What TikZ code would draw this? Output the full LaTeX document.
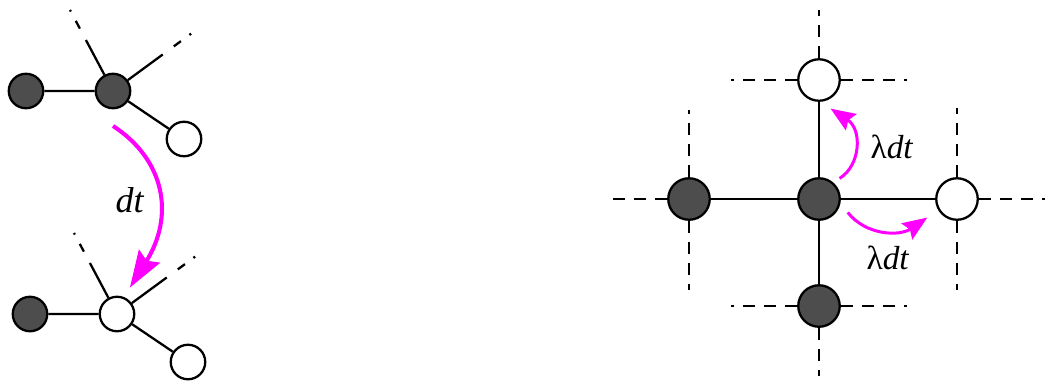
\documentclass[tikz,border=0pt]{standalone}
\usepackage{fontspec}
\setmainfont{Liberation Serif}
\usetikzlibrary{calc,arrows.meta}
\definecolor{occ}{HTML}{4D4D4D}
\definecolor{hopcol}{HTML}{FF00FF}
\tikzset{
  site/.style={circle, draw, line width=1.3pt, inner sep=0pt},
  occupied/.style={site, fill=occ},
  vacant/.style={site, fill=white},
  smallsite/.style={minimum size=0.69cm},
  bigsite/.style={minimum size=0.83cm},
  bond/.style={line width=1.3pt},
  stub/.style={bond, dash pattern=on 7pt off 5pt},
  tail/.style={bond, dash pattern=on 5pt off 6pt on 1.2pt off 20pt},
  hop/.style={hopcol, line width=1.7pt, -{Stealth[length=14pt, width=11pt, inset=2pt]}},
  bighop/.style={hopcol, line width=2.3pt, -{Stealth[length=21pt, width=14pt, inset=3pt]}}
}

\begin{document}
\begin{tikzpicture}[x=0.02cm, y=-0.02cm]
    \useasboundingbox (0,0) rectangle (1045,383);

    % bond picture, before the step
    \node[occupied, smallsite] (a1) at (26,91) {};
    \node[occupied, smallsite] (b1) at (113,91) {};
    \node[vacant, smallsite] (c1) at (184,139) {};
    \coordinate (ul1) at (70,10);
    \coordinate (ur1) at (192,33);
    \draw[bond] (a1) -- (b1) -- (c1);
    \draw[bond] (b1) -- ($(b1)!0.63!(ul1)$);
    \draw[tail] ($(b1)!0.77!(ul1)$) -- (ul1);
    \draw[bond] (b1) -- ($(b1)!0.63!(ur1)$);
    \draw[tail] ($(b1)!0.77!(ur1)$) -- (ur1);

    % and after it
    \begin{scope}[shift={(4,223)}]
      \node[occupied, smallsite] (a2) at (26,91) {};
      \node[vacant, smallsite] (b2) at (113,91) {};
      \node[vacant, smallsite] (c2) at (184,139) {};
      \coordinate (ul2) at (70,10);
      \coordinate (ur2) at (192,33);
      \draw[bond] (a2) -- (b2) -- (c2);
      \draw[bond] (b2) -- ($(b2)!0.63!(ul2)$);
      \draw[tail] ($(b2)!0.77!(ul2)$) -- (ul2);
      \draw[bond] (b2) -- ($(b2)!0.63!(ur2)$);
      \draw[tail] ($(b2)!0.77!(ur2)$) -- (ur2);
    \end{scope}

    \draw[bighop] ($(b1)!1.9!(b1.-90)$) .. controls +(52,34) and +(45,-72) .. ($(b2)!1.6!(b2.64)$);
    \node (dtlab) at (130,200) {\fontsize{20.5}{24}\selectfont\textit{dt}};

    % lattice
    \node[occupied, bigsite] (w) at (689,199) {};
    \node[occupied, bigsite] (d) at (819,199) {};
    \node[vacant, bigsite] (e) at (957,199) {};
    \node[vacant, bigsite] (n) at (819,80) {};
    \node[occupied, bigsite] (s) at (819,306) {};
    \draw[bond] (w) -- (d) -- (e);
    \draw[bond] (n) -- (d) -- (s);

    \coordinate (nu) at (819,10);
    \coordinate (nl) at (731,80);
    \coordinate (nr) at (907,80);
    \coordinate (sl) at (731,306);
    \coordinate (sr) at (907,306);
    \coordinate (sd) at (819,376);
    \coordinate (wu) at (689,110);
    \coordinate (wd) at (689,290);
    \coordinate (wl) at (613,199);
    \coordinate (eu) at (957,108);
    \coordinate (ed) at (957,290);
    \coordinate (er) at (1045,199);
    \foreach \a/\b in {n/nu, n/nl, n/nr, s/sl, s/sr, s/sd, w/wu, w/wd, w/wl, e/eu, e/ed, e/er}
      \draw[stub] (\a) -- (\b);

    \draw[hop] ($(d)!1.33!(d.45)$) .. controls +(21,-13) and +(32,21) .. ($(n)!1.41!(n.-68)$);
    \draw[hop] ($(d)!1.45!(d.-25)$) .. controls +(18,23) and +(-28,19) .. ($(e)!1.6!(e.-148)$);
    \node (lamup) at (892,147) {\fontsize{19}{22}\selectfont λ\textit{dt}};
    \node (lamdn) at (888,258) {\fontsize{19}{22}\selectfont λ\textit{dt}};
\end{tikzpicture}
\end{document}
